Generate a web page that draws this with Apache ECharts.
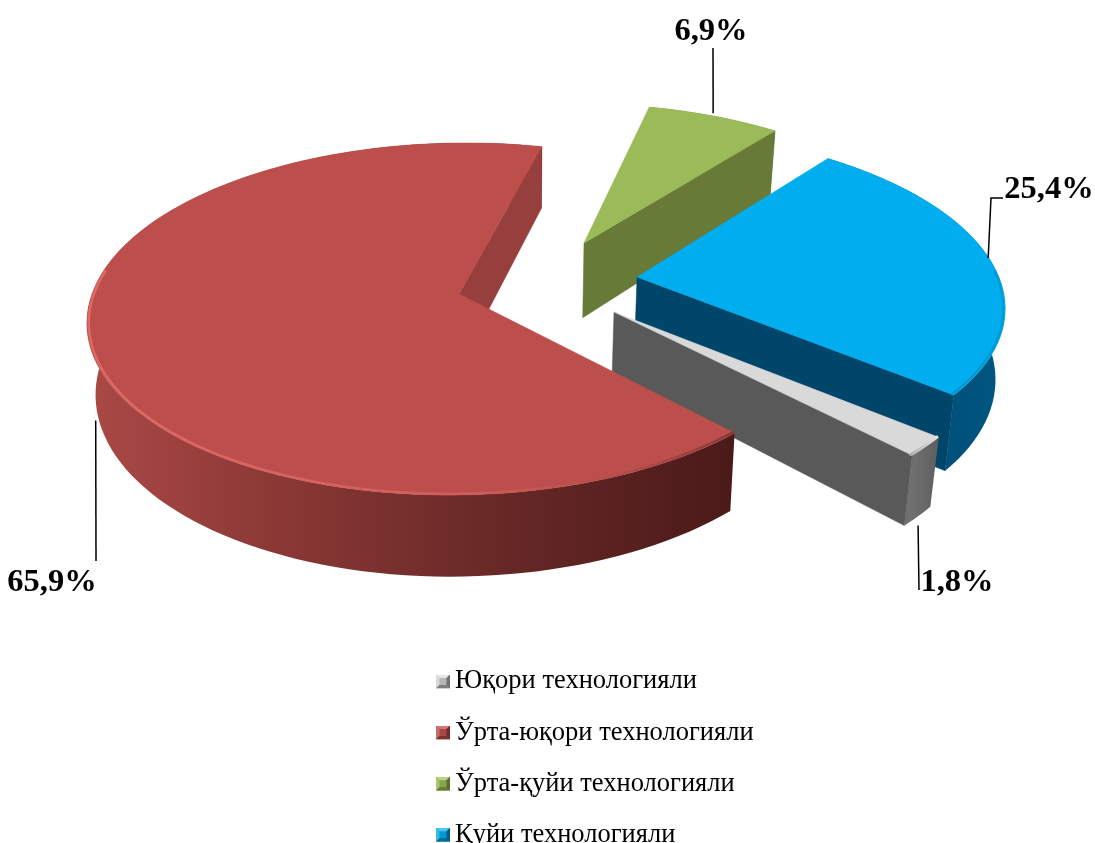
<!DOCTYPE html>
<html>
<head>
<meta charset="utf-8">
<style>html,body{margin:0;padding:0;background:#fff}#c{width:1095px;height:843px}</style>
<script src="https://cdn.jsdelivr.net/npm/echarts@6/dist/echarts.min.js"></script>
</head>
<body>
<div id="c"></div>
<script>
// ---- data ----
const categories = ['Юқори технологияли', 'Ўрта-юқори технологияли', 'Ўрта-қуйи технологияли', 'Қуйи технологияли'];
const shares = [1.8, 65.9, 6.9, 25.4];
const labels = ['1,8%', '65,9%', '6,9%', '25,4%'];

// ---- styles ----
const topColors = ['#D9D9D9', '#BC4F4C', '#9BBB59', '#00ADEE'];
const wallColors = ['#595959', '#963F3C', '#677A37', '#00456A'];
const legendLight = ['#E6E6E6', '#D27A77', '#BBD184', '#4CC4F2'];
const legendMid = ['#B5B5B5', '#A94744', '#87A34C', '#0098D2'];
const legendDark = ['#707070', '#6E2E2C', '#5A6E30', '#005A85'];
const outerStops = [
  [[0, '#707070'], [1, '#5E5E5E']],
  [[0, '#AB4946'], [0.3, '#8A3835'], [0.65, '#662826'], [1, '#4A1A19']],
  [[0, '#677A37'], [1, '#677A37']],
  [[0, '#00456A'], [1, '#005683']]
];
const rimStops = [
  [[0, '#B0B0B0'], [1, '#E8E8E8']],
  [[0, '#DE6A66'], [0.6, '#D05D59'], [0.85, '#B04A47'], [1, '#8A3835']],
  [[0, '#9BBB59'], [1, '#9BBB59']],
  [[0, '#0086BB'], [1, '#009CD8']]
];

// ---- projection layout (pixels) ----
const VP = {x0: 520, y0: 294, rx: 367, ry: 172.5, p: 0.142, firstAngle: 39.82, bottomScale: 0.98, rimInset: 0.995};
const apex = [[614, 312], [459, 294], [584, 243], [637, 277]];
const depth = [62, 70, 78, 70];
const rimRange = [[0, 1], [0, 0.6], [0, 0], [0.55, 1]];
const leaderOffset = [[-8, 79], [7, 80], [-1, -3], [-2, -2]];
const leaderVia = [[[919, 590]], [[96, 561]], [[713, 48]], [[991, 198], [1003, 198]]];
const labelBox = [[957, 583], [52, 583], [711, 32], [1049, 190]];

// ---- geometry helpers ----
function fOf(V) { return 1 / (1 - VP.p * V); }
function project(U, V) {
  const f = fOf(V);
  return [VP.x0 + VP.rx * U * f, VP.y0 + VP.ry * V * f];
}
function unproject(x, y) {
  const Y = (y - VP.y0) / VP.ry;
  const V = Y / (1 + VP.p * Y);
  const U = (x - VP.x0) / (VP.rx * fOf(V));
  return [U, V];
}
function lower(U, V, h) {
  const pt = project(U, V);
  return [VP.x0 + (pt[0] - VP.x0) * VP.bottomScale, pt[1] + h * fOf(V)];
}
function sliceStart(idx) {
  const total = shares.reduce((a, b) => a + b, 0);
  let a = VP.firstAngle;
  for (let i = 0; i < idx; i++) a += shares[i] / total * 360;
  return a;
}
function planeAt(idx, deg, r) {
  const c = unproject(apex[idx][0], apex[idx][1]);
  const t = deg * Math.PI / 180;
  const k = r === undefined ? 1 : r;
  return [c[0] + k * Math.cos(t), c[1] + k * Math.sin(t)];
}

function renderSlice(params, api) {
  const idx = seriesOrder[params.seriesIndex];
  const value = api.value(0);
  const a0 = sliceStart(idx);
  const total = shares.reduce((a, b) => a + b, 0);
  const a1 = a0 + value / total * 360;
  const h = depth[idx];
  const c = unproject(apex[idx][0], apex[idx][1]);
  const n = Math.max(6, Math.ceil((a1 - a0) / 2));
  const plane = [], rimPts = [];
  for (let i = 0; i <= n; i++) {
    const d = a0 + (a1 - a0) * i / n;
    plane.push(planeAt(idx, d));
    const q = planeAt(idx, d, VP.rimInset);
    rimPts.push(project(q[0], q[1]));
  }
  const topArc = plane.map(p => project(p[0], p[1]));
  const botArc = plane.map(p => lower(p[0], p[1], h));
  const topC = project(c[0], c[1]);
  const botC = lower(c[0], c[1], h);
  const xs = topArc.map(p => p[0]);
  const xMin = Math.min.apply(null, xs), xMax = Math.max.apply(null, xs);
  const stops = s => s.map(q => ({offset: q[0], color: q[1]}));
  const grad = s => new echarts.graphic.LinearGradient(xMin, 0, xMax, 0, stops(s), true);

  const children = [
    {type: 'polygon', shape: {points: topArc.concat(botArc.slice().reverse())},
      style: {fill: grad(outerStops[idx])}},
    // the radial wall on the far-clockwise edge faces the viewer
    {type: 'polygon', shape: {points: [topC, topArc[n], botArc[n], botC]},
      style: {fill: wallColors[idx], stroke: wallColors[idx], lineWidth: 0.5}},
    {type: 'polygon', shape: {points: [topC].concat(topArc)},
      style: {fill: topColors[idx], stroke: topColors[idx], lineWidth: 0.5}}
  ];
  const rr = rimRange[idx];
  if (rr[1] > rr[0]) {
    const i0 = Math.round(n * rr[0]), i1 = Math.round(n * rr[1]);
    children.push({type: 'polyline', shape: {points: rimPts.slice(i0, i1 + 1)},
      style: {fill: null, stroke: grad(rimStops[idx]), lineWidth: 2.5, lineCap: 'round', lineJoin: 'round'}});
  }
  // leader line and value label
  const mid = planeAt(idx, (a0 + a1) / 2);
  const m = project(mid[0], mid[1]);
  const anchor = [m[0] + leaderOffset[idx][0], m[1] + leaderOffset[idx][1]];
  children.push({type: 'polyline', z2: 20, shape: {points: [anchor].concat(leaderVia[idx])},
    style: {fill: null, stroke: '#000', lineWidth: 1.5}});
  children.push({type: 'text', z2: 21, style: {
    text: labels[idx], x: labelBox[idx][0], y: labelBox[idx][1],
    align: 'center', verticalAlign: 'middle',
    font: 'bold 32.5px "Liberation Serif"', fill: '#000'}});
  return {type: 'group', children};
}

function bevelIcon(i) {
  const s = '<svg xmlns="http://www.w3.org/2000/svg" width="56" height="56" viewBox="0 0 14 14">' +
    '<rect width="14" height="14" fill="' + legendMid[i] + '"/>' +
    '<polygon points="0,0 14,0 10.5,3.5 3.5,3.5" fill="' + legendLight[i] + '"/>' +
    '<polygon points="0,0 3.5,3.5 3.5,10.5 0,14" fill="' + legendLight[i] + '" opacity="0.7"/>' +
    '<polygon points="14,0 14,14 10.5,10.5 10.5,3.5" fill="' + legendDark[i] + '"/>' +
    '<polygon points="0,14 14,14 10.5,10.5 3.5,10.5" fill="' + legendDark[i] + '" opacity="0.8"/>' +
    '</svg>';
  return 'image://data:image/svg+xml;charset=utf-8,' + encodeURIComponent(s);
}

// back-to-front drawing order
const seriesOrder = [2, 3, 0, 1];
const chart = echarts.init(document.getElementById('c'));
chart.setOption({
  animation: false,
  backgroundColor: '#ffffff',
  legend: {
    orient: 'vertical', left: 436, top: 668, height: 200, padding: 0,
    itemWidth: 14, itemHeight: 14, itemGap: 24.1,
    selectedMode: false,
    textStyle: {fontFamily: 'Liberation Serif', fontSize: 26.5, color: '#000'},
    data: categories.map((name, i) => ({name, icon: bevelIcon(i)}))
  },
  series: seriesOrder.map(i => ({
    type: 'custom', name: categories[i], coordinateSystem: 'none',
    itemStyle: {color: topColors[i]},
    data: [shares[i]],
    renderItem: renderSlice
  }))
});
</script>
</body>
</html>
